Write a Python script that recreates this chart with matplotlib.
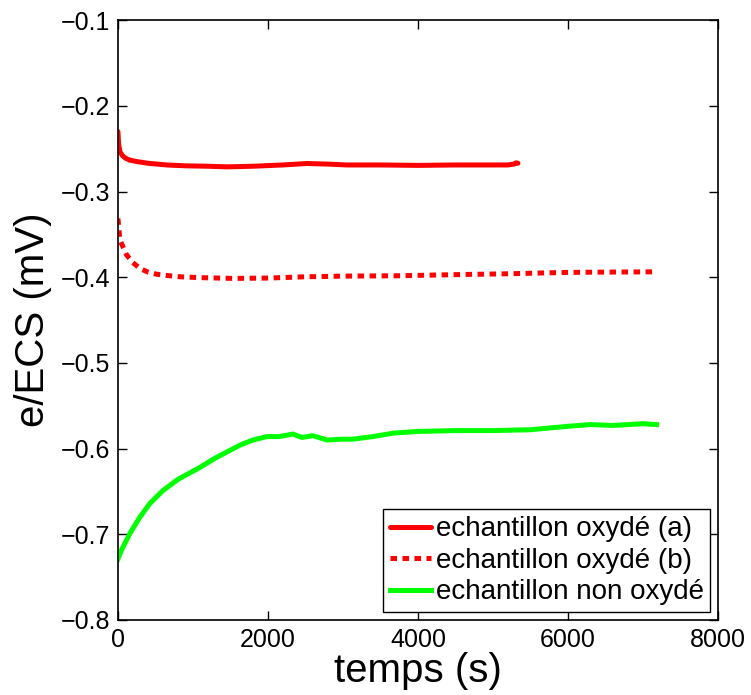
import numpy as np
import matplotlib
matplotlib.use("Agg")
import matplotlib.pyplot as plt

plt.rcParams['font.family'] = ['Liberation Sans', 'DejaVu Sans']
plt.rcParams['axes.unicode_minus'] = True

# echantillon oxydé (a)
t_a = [0, 10, 27, 60, 100, 160, 250, 400, 650, 900, 1200, 1450, 1800, 2200, 2516,
       2800, 3050, 3500, 4000, 4500, 5000, 5200, 5280, 5310, 5333]
v_a = [-0.230, -0.245, -0.2536, -0.258, -0.261, -0.2634, -0.265, -0.267, -0.269, -0.270,
       -0.2705, -0.2712, -0.2705, -0.269, -0.2673, -0.268, -0.269, -0.269, -0.2695, -0.269,
       -0.269, -0.269, -0.268, -0.2665, -0.267]

# echantillon oxydé (b)
t_b = [0, 27, 116, 200, 293, 400, 516, 650, 827, 1100, 1533, 2000, 2500, 3049, 3760,
       4500, 5200, 5982, 6600, 7182]
v_b = [-0.3314, -0.3567, -0.374, -0.383, -0.3898, -0.394, -0.3965, -0.398, -0.3995, -0.4005,
       -0.4014, -0.401, -0.3995, -0.3987, -0.3983, -0.397, -0.396, -0.3944, -0.394, -0.3937]

# echantillon non oxydé
t_c = [0, 50, 160, 293, 427, 600, 800, 1093, 1300, 1627, 1800, 1987, 2150, 2333, 2450,
       2600, 2787, 3000, 3133, 3400, 3667, 4000, 4500, 5000, 5500, 6000, 6300, 6600, 7000, 7180]
v_c = [-0.729, -0.718, -0.699, -0.680, -0.664, -0.649, -0.636, -0.622, -0.611, -0.596,
       -0.590, -0.586, -0.586, -0.583, -0.587, -0.585, -0.590, -0.589, -0.589, -0.586,
       -0.582, -0.580, -0.579, -0.579, -0.578, -0.574, -0.572, -0.573, -0.571, -0.572]

labels = ['echantillon oxydé (a)', 'echantillon oxydé (b)', 'echantillon non oxydé']

fig = plt.figure(figsize=(7.51, 6.95), dpi=100)
ax = fig.add_axes([0.157, 0.108, 0.799, 0.863])

ax.plot(t_a, v_a, color='#ff0000', lw=3.6, label=labels[0], solid_capstyle='round')
ax.plot(t_b, v_b, color='#ff0000', lw=3.6, linestyle=(0, (1.3, 1.1)), label=labels[1])
ax.plot(t_c, v_c, color='#00ff00', lw=3.6, label=labels[2])

ax.set_xlim(0, 8000)
ax.set_ylim(-0.8, -0.1)
ax.set_xticks(np.arange(0, 8001, 2000))
ax.set_yticks(np.arange(-0.8, -0.05, 0.1))
ax.set_yticklabels(['\u22120.8', '\u22120.7', '\u22120.6', '\u22120.5', '\u22120.4',
                    '\u22120.3', '\u22120.2', '\u22120.1'])
ax.tick_params(direction='in', top=True, right=True, labelsize=18, length=6.5, width=1,
               pad=5.5)
for s in ax.spines.values():
    s.set_linewidth(1.2)

ax.set_xlabel('temps (s)', fontsize=29, labelpad=0)
ax.set_ylabel('e/ECS (mV)', fontsize=29, labelpad=6)

leg = ax.legend(loc='lower right', fontsize=20, handlelength=1.5, handletextpad=0.15,
                borderpad=0.25, labelspacing=0.2, borderaxespad=0.27, fancybox=False,
                framealpha=1, edgecolor='black')
leg.get_frame().set_linewidth(1.0)

fig.savefig('out.png', dpi=100)
